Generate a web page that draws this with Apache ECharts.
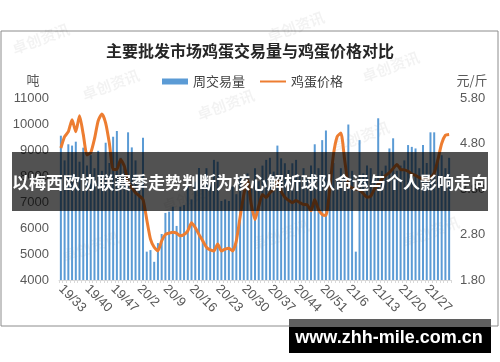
<!DOCTYPE html>
<html>
<head>
<meta charset="utf-8">
<script src="https://cdn.jsdelivr.net/npm/echarts@6/dist/echarts.min.js"></script>
<style>
html,body{margin:0;padding:0;background:#fff;}
#main{width:500px;height:362px;}
</style>
</head>
<body>
<div id="main"></div>
<script>
const titleText = '主要批发市场鸡蛋交易量与鸡蛋价格对比';
const seriesNames = ['周交易量', '鸡蛋价格'];
const leftUnit = '吨';
const rightUnit = '元/斤';
const overlayText = '以梅西欧协联赛季走势判断为核心解析球队命运与个人影响走向';
const bannerText = 'www.zhh-mile.com.cn';

const categories = [
 '19/33','19/34','19/35','19/36','19/37','19/38','19/39','19/40','19/41','19/42',
 '19/43','19/44','19/45','19/46','19/47','19/48','19/49','19/50','19/51','19/52',
 '20/1','20/2','20/3','20/4','20/5','20/6','20/7','20/8','20/9','20/10',
 '20/11','20/12','20/13','20/14','20/15','20/16','20/17','20/18','20/19','20/20',
 '20/21','20/22','20/23','20/24','20/25','20/26','20/27','20/28','20/29','20/30',
 '20/31','20/32','20/33','20/34','20/35','20/36','20/37','20/38','20/39','20/40',
 '20/41','20/42','20/43','20/44','20/45','20/46','20/47','20/48','20/49','20/50',
 '20/51','20/52','21/1','21/2','21/3','21/4','21/5','21/6','21/7','21/8',
 '21/9','21/10','21/11','21/12','21/13','21/14','21/15','21/16','21/17','21/18',
 '21/19','21/20','21/21','21/22','21/23','21/24','21/25','21/26','21/27','21/28',
 '21/29','21/30','21/31','21/32','21/33'
];

const volume = [
 9550,8600,9220,9170,9320,8550,9090,8400,8800,8300,
 8970,8200,9280,8500,9510,9730,8700,8300,9680,9100,
 8600,7900,9470,5090,5150,4700,5420,5770,6580,6630,
 6820,6080,6820,6880,7590,7100,7780,8310,7600,8300,
 7700,8620,8550,7040,7100,7040,7600,7300,8000,7400,
 8100,7500,8300,7800,8400,8620,8700,8170,9170,8680,
 8490,8230,8490,8620,8000,8300,7900,8400,9220,8300,
 9380,9750,8100,8500,7800,8300,8000,9980,8200,5090,
 9380,8100,8400,8300,8000,10220,8200,8400,9060,9450,
 8200,8400,8600,9190,9120,9060,8300,9190,8500,9680,
 9680,8600,8800,8300,8700
];

const price = [
 4.70,4.95,5.06,5.32,5.06,5.41,5.00,4.55,4.60,4.90,
 5.30,5.45,5.25,4.80,4.23,4.23,4.45,4.30,3.97,3.83,
 3.72,3.65,3.57,3.13,2.70,2.52,2.44,2.66,2.80,2.83,
 2.85,2.83,2.77,2.80,2.88,3.06,2.95,2.80,2.66,2.52,
 2.46,2.44,2.59,2.44,2.48,2.50,2.44,2.66,3.18,3.68,
 4.00,3.46,3.13,3.42,3.68,3.61,3.72,3.79,4.00,3.75,
 3.62,3.55,3.50,3.55,3.50,3.46,3.45,3.32,3.57,3.35,
 3.24,3.22,3.80,4.55,4.95,5.03,4.45,3.90,3.82,3.80,
 3.78,3.70,3.62,3.64,3.80,3.90,4.02,4.10,4.16,4.25,
 4.34,4.23,4.22,4.19,4.13,4.10,4.05,4.02,4.00,4.05,
 4.15,4.45,4.80,4.98,5.00
];

const leftAxis = {min: 4000, max: 11000, step: 1000};
const rightAxis = {min: 1.8, max: 5.8, labelStep: 1.0, step: 0.2};

const chart = echarts.init(document.getElementById('main'), null, {renderer: 'canvas'});

const wmStyle = {fill: 'rgba(0,0,0,0.05)', fontSize: 15, fontWeight: 'bold', fontFamily: 'Noto Sans CJK SC'};
const watermarks = [[10,42],[80,88],[195,108],[265,30],[360,70],[60,250],[250,238],[400,235],[160,200],[330,140]];
const wmGraphics = watermarks.map(p => ({
  type: 'text', x: p[0], y: p[1], rotation: 0.35, z: 1, silent: true,
  style: Object.assign({text: '卓创资讯'}, wmStyle)
}));

chart.setOption({
  backgroundColor: '#fff',
  animation: false,
  title: {
    text: titleText, left: 'center', top: 38,
    textStyle: {fontSize: 16, fontWeight: 'bold', color: '#262626', fontFamily: 'Noto Sans CJK SC'}
  },
  legend: {
    left: 162, top: 75, padding: 0, itemGap: 14, itemWidth: 26, itemHeight: 6,
    textStyle: {fontSize: 13, color: '#404040', fontFamily: 'Noto Sans CJK SC'},
    data: [
      {name: seriesNames[0], icon: 'rect'},
      {name: seriesNames[1], itemStyle: {color: 'rgba(0,0,0,0)', borderWidth: 0, opacity: 0}}
    ]
  },
  grid: {left: 59, right: 49, top: 98, bottom: 82},
  xAxis: {
    type: 'category', data: categories, boundaryGap: true,
    axisLine: {lineStyle: {color: '#d9d9d9'}},
    axisTick: {show: true, interval: 0, length: 3, lineStyle: {color: '#d9d9d9'}},
    axisLabel: {interval: 6, rotate: -45, fontSize: 13, color: '#595959', margin: 7, fontFamily: 'Liberation Sans'}
  },
  yAxis: [
    {
      type: 'value', min: leftAxis.min, max: leftAxis.max, interval: leftAxis.step,
      splitLine: {show: false}, axisLine: {show: false}, axisTick: {show: false},
      axisLabel: {fontSize: 13, color: '#595959', margin: 10, fontFamily: 'Liberation Sans',
        formatter: function (v) { return String(v); }}
    },
    {
      type: 'value', min: rightAxis.min, max: rightAxis.max, interval: rightAxis.step,
      splitLine: {show: false}, axisLine: {show: false}, axisTick: {show: false},
      axisLabel: {
        fontSize: 13, color: '#595959', margin: 9, fontFamily: 'Liberation Sans',
        showMinLabel: true, showMaxLabel: true,
        formatter: function (v) {
          const k = (v - rightAxis.min) / rightAxis.labelStep;
          return Math.abs(k - Math.round(k)) < 1e-6 ? v.toFixed(2) : '';
        }
      }
    }
  ],
  series: [
    {
      name: seriesNames[0], type: 'bar', data: volume, yAxisIndex: 0,
      barWidth: 2, itemStyle: {color: '#5B9BD5'}, z: 2
    },
    {
      name: seriesNames[1], type: 'line', data: price, yAxisIndex: 1,
      symbol: 'none', smooth: 0.2, lineStyle: {color: '#ED7D31', width: 3},
      itemStyle: {color: '#ED7D31'}, z: 3
    }
  ],
  graphic: wmGraphics.concat([
    {type: 'rect', shape: {x: 1, y: 31, width: 497, height: 295}, z: 0, silent: true,
     style: {fill: null, stroke: '#8c8c8c', lineWidth: 1}},
    {type: 'text', x: 33, y: 80, z: 5, style: {text: leftUnit, fontSize: 13, fill: '#595959', align: 'center', verticalAlign: 'middle', fontFamily: 'Noto Sans CJK SC'}},
    {type: 'text', x: 472, y: 80, z: 5, style: {text: rightUnit, fontSize: 13, fill: '#595959', align: 'center', verticalAlign: 'middle', fontFamily: 'Noto Sans CJK SC'}},
    {type: 'rect', shape: {x: 12, y: 152, width: 476, height: 59}, z: 50, silent: true,
     style: {fill: 'rgba(0,0,0,0.68)'}},
    {type: 'text', x: 250, y: 183, z: 51, style: {text: overlayText, fontSize: 17, fontWeight: 'bold', fill: '#fff', align: 'center', verticalAlign: 'middle', fontFamily: 'Noto Sans CJK SC'}},
    {type: 'rect', shape: {x: 289, y: 319, width: 202, height: 9}, z: 50, silent: true, style: {fill: '#5f5f5f'}},
    {type: 'rect', shape: {x: 289, y: 327, width: 202, height: 26}, z: 50, silent: true, style: {fill: '#000'}},
    {type: 'text', x: 389, y: 338, z: 51, style: {text: bannerText, fontSize: 18, fontWeight: 'bold', fill: '#fff', align: 'center', verticalAlign: 'middle', fontFamily: 'Liberation Sans'}}
  ])
});
</script>
</body>
</html>
